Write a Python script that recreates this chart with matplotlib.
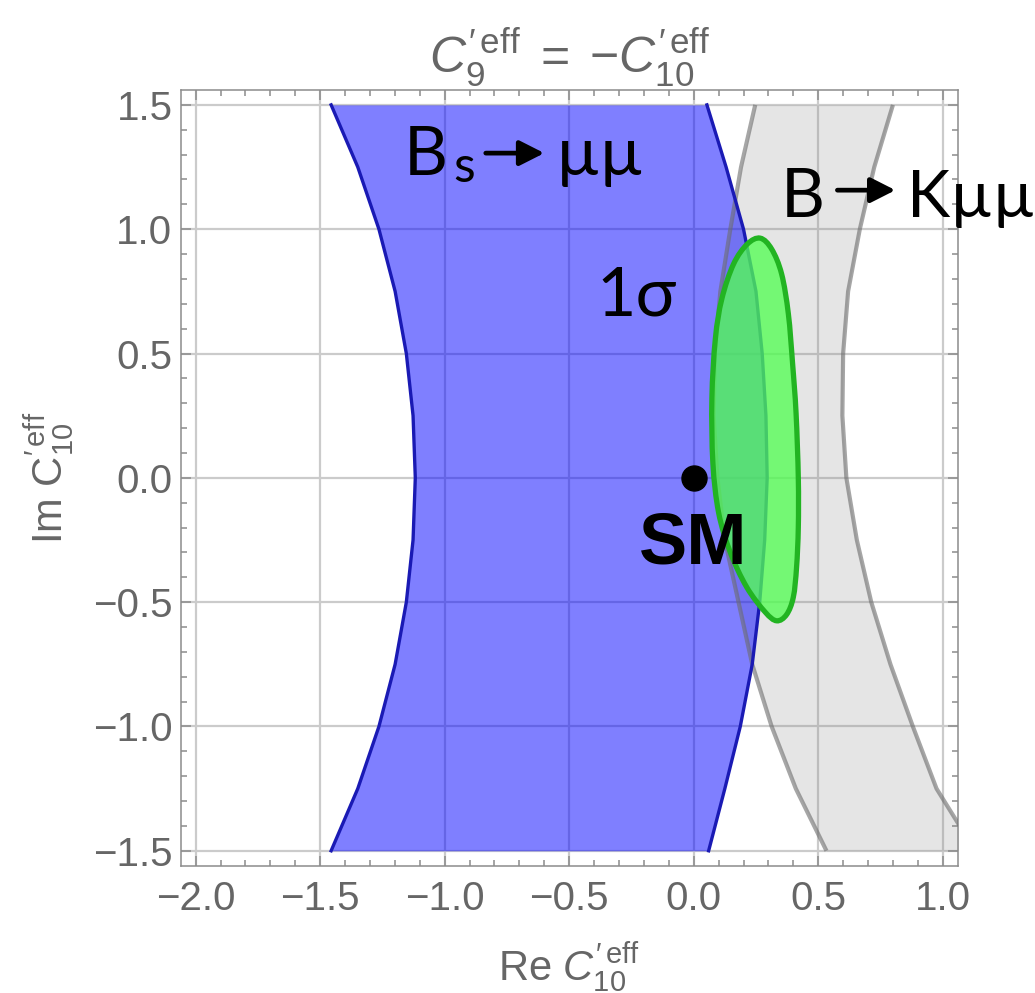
import numpy as np
import matplotlib
matplotlib.use("Agg")
import matplotlib.pyplot as plt
from matplotlib.ticker import MultipleLocator, FuncFormatter
from matplotlib.path import Path
from matplotlib.patches import PathPatch

# ---------------- data ----------------
im_vals = [-1.5, -1.25, -1.0, -0.75, -0.5, -0.25, 0.0, 0.25, 0.5, 0.75, 1.0, 1.25, 1.5]
# B_s -> mu mu allowed band: left and right boundaries (Re) at each Im
bs_left_re = [-1.456, -1.349, -1.264, -1.199, -1.154, -1.127, -1.118,
              -1.127, -1.154, -1.199, -1.264, -1.349, -1.456]
bs_right_re = [0.06, 0.125, 0.187, 0.235, 0.265, 0.285, 0.295,
               0.29, 0.275, 0.25, 0.20, 0.13, 0.053]
# B -> K mu mu allowed band
bk_left_re = [0.533, 0.41, 0.313, 0.235, 0.18, 0.125, 0.095,
              0.08, 0.085, 0.107, 0.147, 0.19, 0.247]
bk_right_re = [1.13, 0.975, 0.88, 0.79, 0.713, 0.655, 0.613,
               0.597, 0.60, 0.62, 0.667, 0.725, 0.80]
# 1 sigma combined contour
sig_re = [0.267, 0.313, 0.353, 0.38, 0.397, 0.411, 0.42, 0.42, 0.413, 0.40, 0.373,
          0.333, 0.287, 0.213, 0.147, 0.10, 0.077, 0.073, 0.087, 0.113, 0.16, 0.215]
sig_im = [0.964, 0.92, 0.82, 0.66, 0.46, 0.26, 0.0, -0.2, -0.36, -0.48, -0.55,
          -0.575, -0.54, -0.44, -0.30, -0.14, 0.06, 0.32, 0.56, 0.72, 0.86, 0.94]
sm_point = (0.0, 0.0)

x_ticks = [-2.0, -1.5, -1.0, -0.5, 0.0, 0.5, 1.0]
y_ticks = [-1.5, -1.0, -0.5, 0.0, 0.5, 1.0, 1.5]


def smooth_closed_path(xs, ys):
    """Closed Catmull-Rom outline through the given points, as cubic Bezier segments."""
    pts = np.column_stack([xs, ys])
    n = len(pts)
    verts = [pts[0]]
    codes = [Path.MOVETO]
    for i in range(n):
        p0, p1, p2, p3 = pts[i - 1], pts[i], pts[(i + 1) % n], pts[(i + 2) % n]
        c1 = p1 + (p2 - p0) / 6.0
        c2 = p2 - (p3 - p1) / 6.0
        verts += [c1, c2, p2]
        codes += [Path.CURVE4] * 3
    verts.append(pts[0])
    codes.append(Path.CLOSEPOLY)
    return Path(verts, codes)


# ---------------- style ----------------
plt.rcParams['mathtext.fontset'] = 'custom'
plt.rcParams['mathtext.rm'] = 'Liberation Sans'
plt.rcParams['mathtext.it'] = 'Liberation Sans:italic'
plt.rcParams['mathtext.bf'] = 'Liberation Sans:bold'
plt.rcParams['font.family'] = ['Liberation Sans', 'DejaVu Sans']

label_gray = '#666666'
frame_gray = '#8c8c8c'

fig = plt.figure(figsize=(10.35, 9.93), dpi=100)
ax = fig.add_axes([0.1746, 0.1282, 0.9253 - 0.1746, 0.9094 - 0.1282])

# B -> K mu mu (gray band)
ax.fill_betweenx(im_vals, bk_left_re, bk_right_re, color=(0.5, 0.5, 0.5), alpha=0.2,
                 linewidth=0, zorder=1)
# B_s -> mu mu (blue band)
ax.fill_betweenx(im_vals, bs_left_re, bs_right_re, color=(0, 0, 1), alpha=0.5,
                 linewidth=0, zorder=2)
ax.plot(bk_left_re, im_vals, color=(0.42, 0.42, 0.42), alpha=0.6, lw=3.0, zorder=3,
        solid_capstyle='butt')
ax.plot(bk_right_re, im_vals, color=(0.42, 0.42, 0.42), alpha=0.6, lw=3.0, zorder=3,
        solid_capstyle='butt')
ax.plot(bs_left_re, im_vals, color='#1a1ab4', lw=2.4, zorder=3)
ax.plot(bs_right_re, im_vals, color='#1a1ab4', lw=2.4, zorder=3)

# 1 sigma region
ax.add_patch(PathPatch(smooth_closed_path(sig_re, sig_im),
                       facecolor=(0.32, 1.0, 0.32, 0.77), edgecolor='#22b422',
                       lw=3.8, zorder=4))

# SM point
ax.plot([sm_point[0]], [sm_point[1]], 'o', color='black', markersize=18, zorder=5)

# texts
thin = dict(family=['Lato', 'DejaVu Sans'], weight='normal', color='black')
arrow_kw = dict(arrowstyle='-|>,head_length=0.75,head_width=0.38', lw=3.4,
                color='black', mutation_scale=20, shrinkA=0, shrinkB=0)
ax.text(-1.165, 1.218, 'B', fontsize=49, ha='left', va='baseline', zorder=6, **thin)
ax.text(-0.966, 1.19, 's', fontsize=36, ha='left', va='baseline', zorder=6, **thin)
ax.annotate('', xy=(-0.600, 1.306), xytext=(-0.835, 1.306), arrowprops=arrow_kw, zorder=6)
ax.text(-0.552, 1.218, '\u00b5\u00b5', fontsize=49, ha='left', va='baseline', zorder=6, **thin)

ax.text(0.351, 1.048, 'B', fontsize=49, ha='left', va='baseline', zorder=6, **thin)
ax.annotate('', xy=(0.810, 1.157), xytext=(0.577, 1.157), arrowprops=arrow_kw, zorder=6)
ax.text(0.855, 1.048, 'K\u00b5\u00b5', fontsize=47, ha='left', va='baseline', zorder=6, **thin)

ax.text(-0.391, 0.653, '1\u03c3', fontsize=49, ha='left', va='baseline', zorder=6, **thin)

ax.text(-0.218, -0.343, 'SM', fontsize=52, ha='left', va='baseline', zorder=6,
        family='Liberation Sans', weight='bold', color='black')

# axes
ax.set_xlim(-2.06, 1.06)
ax.set_ylim(-1.56, 1.56)
ax.set_xticks(x_ticks)
ax.set_yticks(y_ticks)
fmt = FuncFormatter(lambda v, p: f"{v:.1f}".replace('-', '\u2212'))
ax.xaxis.set_major_formatter(fmt)
ax.yaxis.set_major_formatter(fmt)
ax.xaxis.set_minor_locator(MultipleLocator(0.1))
ax.yaxis.set_minor_locator(MultipleLocator(0.1))
ax.tick_params(which='both', direction='in', top=True, right=True, color=frame_gray,
               width=1.1)
ax.tick_params(which='major', length=7.5, labelsize=29, labelcolor=label_gray)
ax.tick_params(axis='x', which='major', pad=10)
ax.tick_params(axis='y', which='major', pad=6)
ax.tick_params(which='minor', length=4)
for s in ax.spines.values():
    s.set_color(frame_gray)
    s.set_linewidth(1.1)

ax.set_axisbelow(True)
ax.grid(True, which='major', color='#cbcbcb', lw=1.6)

ax.set_xlabel(r'Re $C_{10}^{\prime\,\mathrm{eff}}$', fontsize=30, color=label_gray, labelpad=16)
ax.set_ylabel(r'Im $\mathrm{C}_{10}^{\prime\,\mathrm{eff}}$', fontsize=30, color=label_gray, labelpad=12)
ax.set_title(r'$C_{9}^{\prime\,\mathrm{eff}}\;=\;{-}C_{10}^{\prime\,\mathrm{eff}}$', fontsize=36,
             color=label_gray, pad=8)

fig.savefig('out.png', dpi=100)
